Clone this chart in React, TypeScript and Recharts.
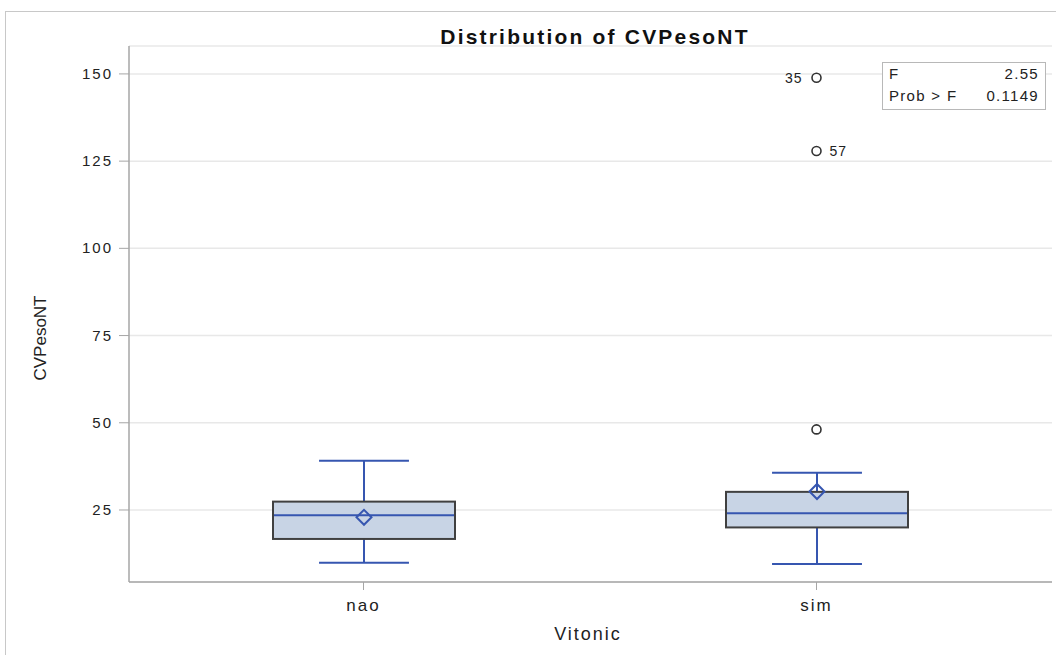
import React from 'react';
import { ComposedChart, Bar, Scatter, XAxis, YAxis, CartesianGrid } from 'recharts';

const categories = ['nao', 'sim'];
const whiskerLow = [9.9, 9.5];
const q1Values = [16.7, 20.0];
const medianValues = [23.5, 24.1];
const q3Values = [27.4, 30.2];
const whiskerHigh = [39.1, 35.7];
const meanValues = [22.9, 30.3];
const outlierCategory = 'sim';
const outlierValues = [148.9, 127.9, 48.1];
const outlierIds = ['35', '57', ''];
const outlierSides = ['left', 'right', 'none'];
const yTicks = [25, 50, 75, 100, 125, 150];
const fValue = '2.55';
const probFValue = '0.1149';

const data = categories.map((c, i) => {
  const row: any = {
    cat: c,
    range: [whiskerLow[i], whiskerHigh[i]],
    low: whiskerLow[i],
    q1: q1Values[i],
    median: medianValues[i],
    q3: q3Values[i],
    high: whiskerHigh[i],
    mean: meanValues[i],
  };
  outlierValues.forEach((v, j) => {
    row['o' + j] = c === outlierCategory ? v : null;
  });
  return row;
});

const FONT = "'Liberation Sans', Arial, Helvetica, sans-serif";
const BLUE = '#3656b0';
const BOX_FILL = '#c8d4e5';
const BOX_STROKE = '#404040';
const FRAME = '#a6a6a6';
const TEXT = '#222';

const BoxShape = (props: any) => {
  const { x, y, width, height, payload } = props;
  if (payload == null || height == null) return null;
  const lo = payload.low;
  const hi = payload.high;
  const py = (v: number) => y + height - ((v - lo) / (hi - lo)) * height;
  const cx = x + width / 2;
  const capHalf = width * 0.247;
  const yHi = py(hi);
  const yLo = py(lo);
  const yQ3 = py(payload.q3);
  const yQ1 = py(payload.q1);
  const yMed = py(payload.median);
  const yMean = py(payload.mean);
  const d = 7.5;
  return (
    <g>
      <line x1={cx} x2={cx} y1={yHi} y2={yQ3} stroke={BLUE} strokeWidth={2} />
      <line x1={cx} x2={cx} y1={yQ1} y2={yLo} stroke={BLUE} strokeWidth={2} />
      <line x1={cx - capHalf} x2={cx + capHalf} y1={yHi} y2={yHi} stroke={BLUE} strokeWidth={2} />
      <line x1={cx - capHalf} x2={cx + capHalf} y1={yLo} y2={yLo} stroke={BLUE} strokeWidth={2} />
      <rect x={x} y={yQ3} width={width} height={yQ1 - yQ3} fill={BOX_FILL} stroke={BOX_STROKE} strokeWidth={2} />
      <line x1={x + 1} x2={x + width - 1} y1={yMed} y2={yMed} stroke={BLUE} strokeWidth={2} />
      <path
        d={`M${cx - d},${yMean} L${cx},${yMean - d} L${cx + d},${yMean} L${cx},${yMean + d} Z`}
        fill="none"
        stroke={BLUE}
        strokeWidth={2}
      />
    </g>
  );
};

const makeOutlierShape = (id: string, side: string) => (props: any) => {
  const { cx, cy } = props;
  if (cx == null || cy == null || isNaN(cy)) return null;
  return (
    <g>
      <circle cx={cx} cy={cy} r={4.5} fill="#fff" stroke="#333" strokeWidth={1.6} />
      {side === 'left' && (
        <text x={cx - 14} y={cy + 5} textAnchor="end" fontFamily={FONT} fontSize={14} letterSpacing={1} fill={TEXT}>
          {id}
        </text>
      )}
      {side === 'right' && (
        <text x={cx + 13} y={cy + 5} textAnchor="start" fontFamily={FONT} fontSize={14} letterSpacing={1} fill={TEXT}>
          {id}
        </text>
      )}
    </g>
  );
};

const YTick = (props: any) => {
  const { x, y, payload } = props;
  return (
    <text x={x} y={y + 5} textAnchor="end" fontFamily={FONT} fontSize={15} letterSpacing={2} fill={TEXT}>
      {payload.value}
    </text>
  );
};

const XTick = (props: any) => {
  const { x, y, payload } = props;
  return (
    <text x={x} y={y + 19} textAnchor="middle" fontFamily={FONT} fontSize={17} letterSpacing={2} fill={TEXT}>
      {payload.value}
    </text>
  );
};

export default function App() {
  return (
    <div style={{ position: 'absolute', left: 0, top: 0, width: 1056, height: 655, background: '#fff', fontFamily: FONT }}>
      <div style={{ position: 'absolute', left: 5, top: 11, right: 0, bottom: 0, borderLeft: '1px solid #c8c8c8', borderTop: '1px solid #c8c8c8' }} />
      <div
        style={{
          position: 'absolute',
          left: 0,
          width: 1190,
          top: 25,
          textAlign: 'center',
          fontWeight: 'bold',
          fontSize: 21,
          lineHeight: '24px',
          letterSpacing: 2.2,
          color: '#111',
        }}
      >
        Distribution of CVPesoNT
      </div>
      <div style={{ position: 'absolute', left: 0, top: 0 }}>
        <ComposedChart width={1056} height={655} data={data} margin={{ top: 46, right: 4, bottom: 0, left: 0 }}>
          <CartesianGrid vertical={false} stroke="#e8e8e8" strokeWidth={1.5} />
          <XAxis
            dataKey="cat"
            type="category"
            height={73}
            padding={{ left: 8, right: 9 }}
            axisLine={{ stroke: FRAME, strokeWidth: 1.5 }}
            tickLine={{ stroke: FRAME }}
            tickSize={8}
            tick={<XTick />}
            label={() => (
              <text x={588} y={640} textAnchor="middle" fontFamily={FONT} fontSize={18} letterSpacing={2} fill={TEXT}>
                Vitonic
              </text>
            )}
          />
          <XAxis xAxisId="top" dataKey="cat" type="category" orientation="top" height={0} tick={false} tickLine={false} axisLine={{ stroke: FRAME, strokeWidth: 1.5 }} />
          <YAxis
            type="number"
            domain={[4.36, 158.0]}
            ticks={yTicks}
            allowDataOverflow
            width={129}
            axisLine={{ stroke: FRAME, strokeWidth: 1.5 }}
            tickLine={{ stroke: FRAME }}
            tickSize={10}
            tickMargin={6}
            tick={<YTick />}
            label={() => (
              <text
                x={46}
                y={338}
                transform="rotate(-90 46 338)"
                textAnchor="middle"
                fontFamily={FONT}
                fontSize={17}
                fill={TEXT}
              >
                CVPesoNT
              </text>
            )}
          />
          <YAxis yAxisId="right" orientation="right" type="number" domain={[4.36, 158.0]} width={0} tick={false} tickLine={false} axisLine={{ stroke: FRAME, strokeWidth: 1.5 }} />
          <Bar dataKey="range" barSize={182} shape={<BoxShape />} isAnimationActive={false} />
          {outlierValues.map((_, j) => (
            <Scatter
              key={j}
              dataKey={'o' + j}
              shape={makeOutlierShape(outlierIds[j], outlierSides[j])}
              isAnimationActive={false}
            />
          ))}
        </ComposedChart>
      </div>
      <div
        style={{
          position: 'absolute',
          left: 882,
          top: 62,
          width: 164,
          height: 48,
          border: '1px solid #b8b8b8',
          background: '#fff',
          boxSizing: 'border-box',
          fontSize: 15,
          letterSpacing: 1.3,
          color: TEXT,
        }}
      >
        <div style={{ position: 'absolute', left: 6, top: 2 }}>F</div>
        <div style={{ position: 'absolute', right: 6, top: 2 }}>{fValue}</div>
        <div style={{ position: 'absolute', left: 6, top: 24 }}>Prob &gt; F</div>
        <div style={{ position: 'absolute', right: 6, top: 24 }}>{probFValue}</div>
      </div>
    </div>
  );
}
